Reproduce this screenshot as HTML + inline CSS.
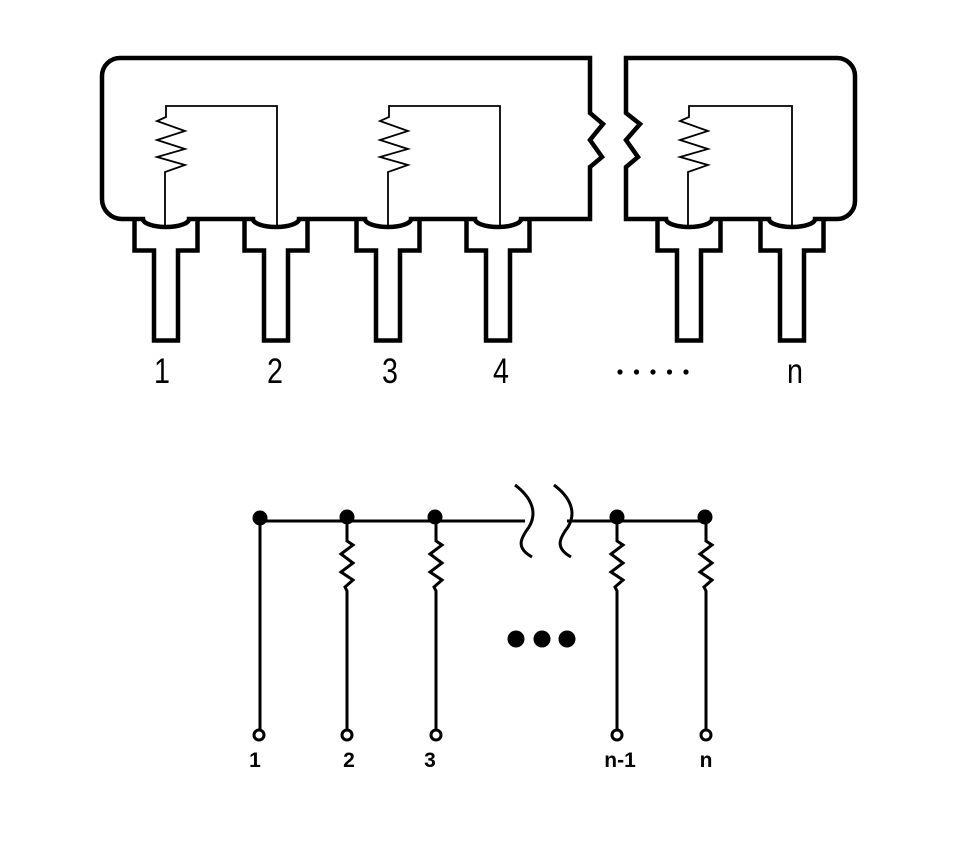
<!DOCTYPE html>
<html><head><meta charset="utf-8"><style>
html,body{margin:0;padding:0;background:#fff;}
svg{display:block;}
</style></head><body>
<svg width="977" height="857" viewBox="0 0 977 857" xmlns="http://www.w3.org/2000/svg">
<rect width="977" height="857" fill="#fff"/>
<g fill="#fff" stroke="#000" stroke-width="4.5" stroke-linejoin="miter">
<!-- pins -->
<path d="M134.5,219 V250.5 H154 V340.5 H178 V250.5 H197.5 V219"/>
<path d="M244.5,219 V250.5 H264 V340.5 H288 V250.5 H307.5 V219"/>
<path d="M356.5,219 V250.5 H376 V340.5 H400 V250.5 H419.5 V219"/>
<path d="M466.5,219 V250.5 H486 V340.5 H510 V250.5 H529.5 V219"/>
<path d="M657.5,219 V250.5 H677 V340.5 H701 V250.5 H720.5 V219"/>
<path d="M760.5,219 V250.5 H780 V340.5 H804 V250.5 H823.5 V219"/>
<!-- left body -->
<path d="M590,113 V58 H120 A18 18 0 0 0 102,76 V199 A20 20 0 0 0 122,219 H143 A23 8 0 0 0 189,219 H253 A23 8 0 0 0 299,219 H365 A23 8 0 0 0 411,219 H475 A23 8 0 0 0 521,219 H590 V167 L602,157 L590,140 L603,124 Z"/>
<!-- right body -->
<path d="M626,113 L640,124 L626,140 L638,157 L626,167 V219 H666 A23 8 0 0 0 712,219 H769 A23 8 0 0 0 815,219 H837 A18 18 0 0 0 855,201 V76 A18 18 0 0 0 837,58 H626 Z"/>
</g>
<g fill="none" stroke="#000" stroke-width="1.8" stroke-linejoin="miter">
<path d="M165,226 V172 L185,165 L157,157 L185,149 L157,140 L185,131 L157,121 L166,117 V106 H277 V226"/>
<path d="M388,226 V172 L408,165 L380,157 L408,149 L380,140 L408,131 L380,121 L389,117 V106 H500 V226"/>
<path d="M688,226 V172 L708,165 L680,157 L708,149 L680,140 L708,131 L680,121 L689,117 V106 H792 V226"/>
</g>
<g font-family="'Liberation Sans', sans-serif" font-size="35" fill="#000" text-anchor="middle">
<text transform="translate(162,383) scale(0.82,1)">1</text>
<text transform="translate(275,383) scale(0.82,1)">2</text>
<text transform="translate(390,383) scale(0.82,1)">3</text>
<text transform="translate(501,383) scale(0.82,1)">4</text>
<text transform="translate(795,383) scale(0.82,1)">n</text>
</g>
<g fill="#000">
<circle cx="620" cy="372" r="2.6"/>
<circle cx="636.5" cy="372" r="2.6"/>
<circle cx="653" cy="372" r="2.6"/>
<circle cx="669.5" cy="372" r="2.6"/>
<circle cx="686" cy="372" r="2.6"/>
</g>
<!-- schematic -->
<g fill="none" stroke="#000" stroke-width="3" stroke-linejoin="miter">
<path d="M260,521 H525"/>
<path d="M567,521 H705"/>
<path d="M515,485 C531,497 538,512 529,527 C520,539 516,548 532,557"/>
<path d="M554,485 C570,497 577,512 568,527 C559,539 555,548 571,557"/>
<path d="M260,521 V730"/>
<path d="M347,521 V541 L353,545 L341,554 L353,563 L341,572 L353,580 L345,587 L347,591 V730"/>
<path d="M436,521 V541 L442,545 L430,554 L442,563 L430,572 L442,580 L434,587 L436,591 V730"/>
<path d="M617,521 V541 L623,545 L611,554 L623,563 L611,572 L623,580 L615,587 L617,591 V730"/>
<path d="M706,521 V541 L712,545 L700,554 L712,563 L700,572 L712,580 L704,587 L706,591 V730"/>
<circle cx="259" cy="735" r="5" fill="#fff"/>
<circle cx="347" cy="735" r="5" fill="#fff"/>
<circle cx="436" cy="735" r="5" fill="#fff"/>
<circle cx="617" cy="735" r="5" fill="#fff"/>
<circle cx="706" cy="735" r="5" fill="#fff"/>
</g>
<g fill="#000">
<circle cx="260" cy="518" r="7.5"/>
<circle cx="347" cy="517" r="7.5"/>
<circle cx="435" cy="517" r="7.5"/>
<circle cx="617" cy="517" r="7.5"/>
<circle cx="705" cy="517" r="7.5"/>
<circle cx="516" cy="639" r="8.5"/>
<circle cx="542" cy="639" r="8.5"/>
<circle cx="567" cy="639" r="8.5"/>
</g>
<g font-family="'Liberation Sans', sans-serif" font-size="21" font-weight="bold" fill="#000" text-anchor="middle">
<text x="255" y="767">1</text>
<text x="349" y="767">2</text>
<text x="430" y="767">3</text>
<text x="620" y="767">n-1</text>
<text x="706" y="767">n</text>
</g>
</svg>
</body></html>
